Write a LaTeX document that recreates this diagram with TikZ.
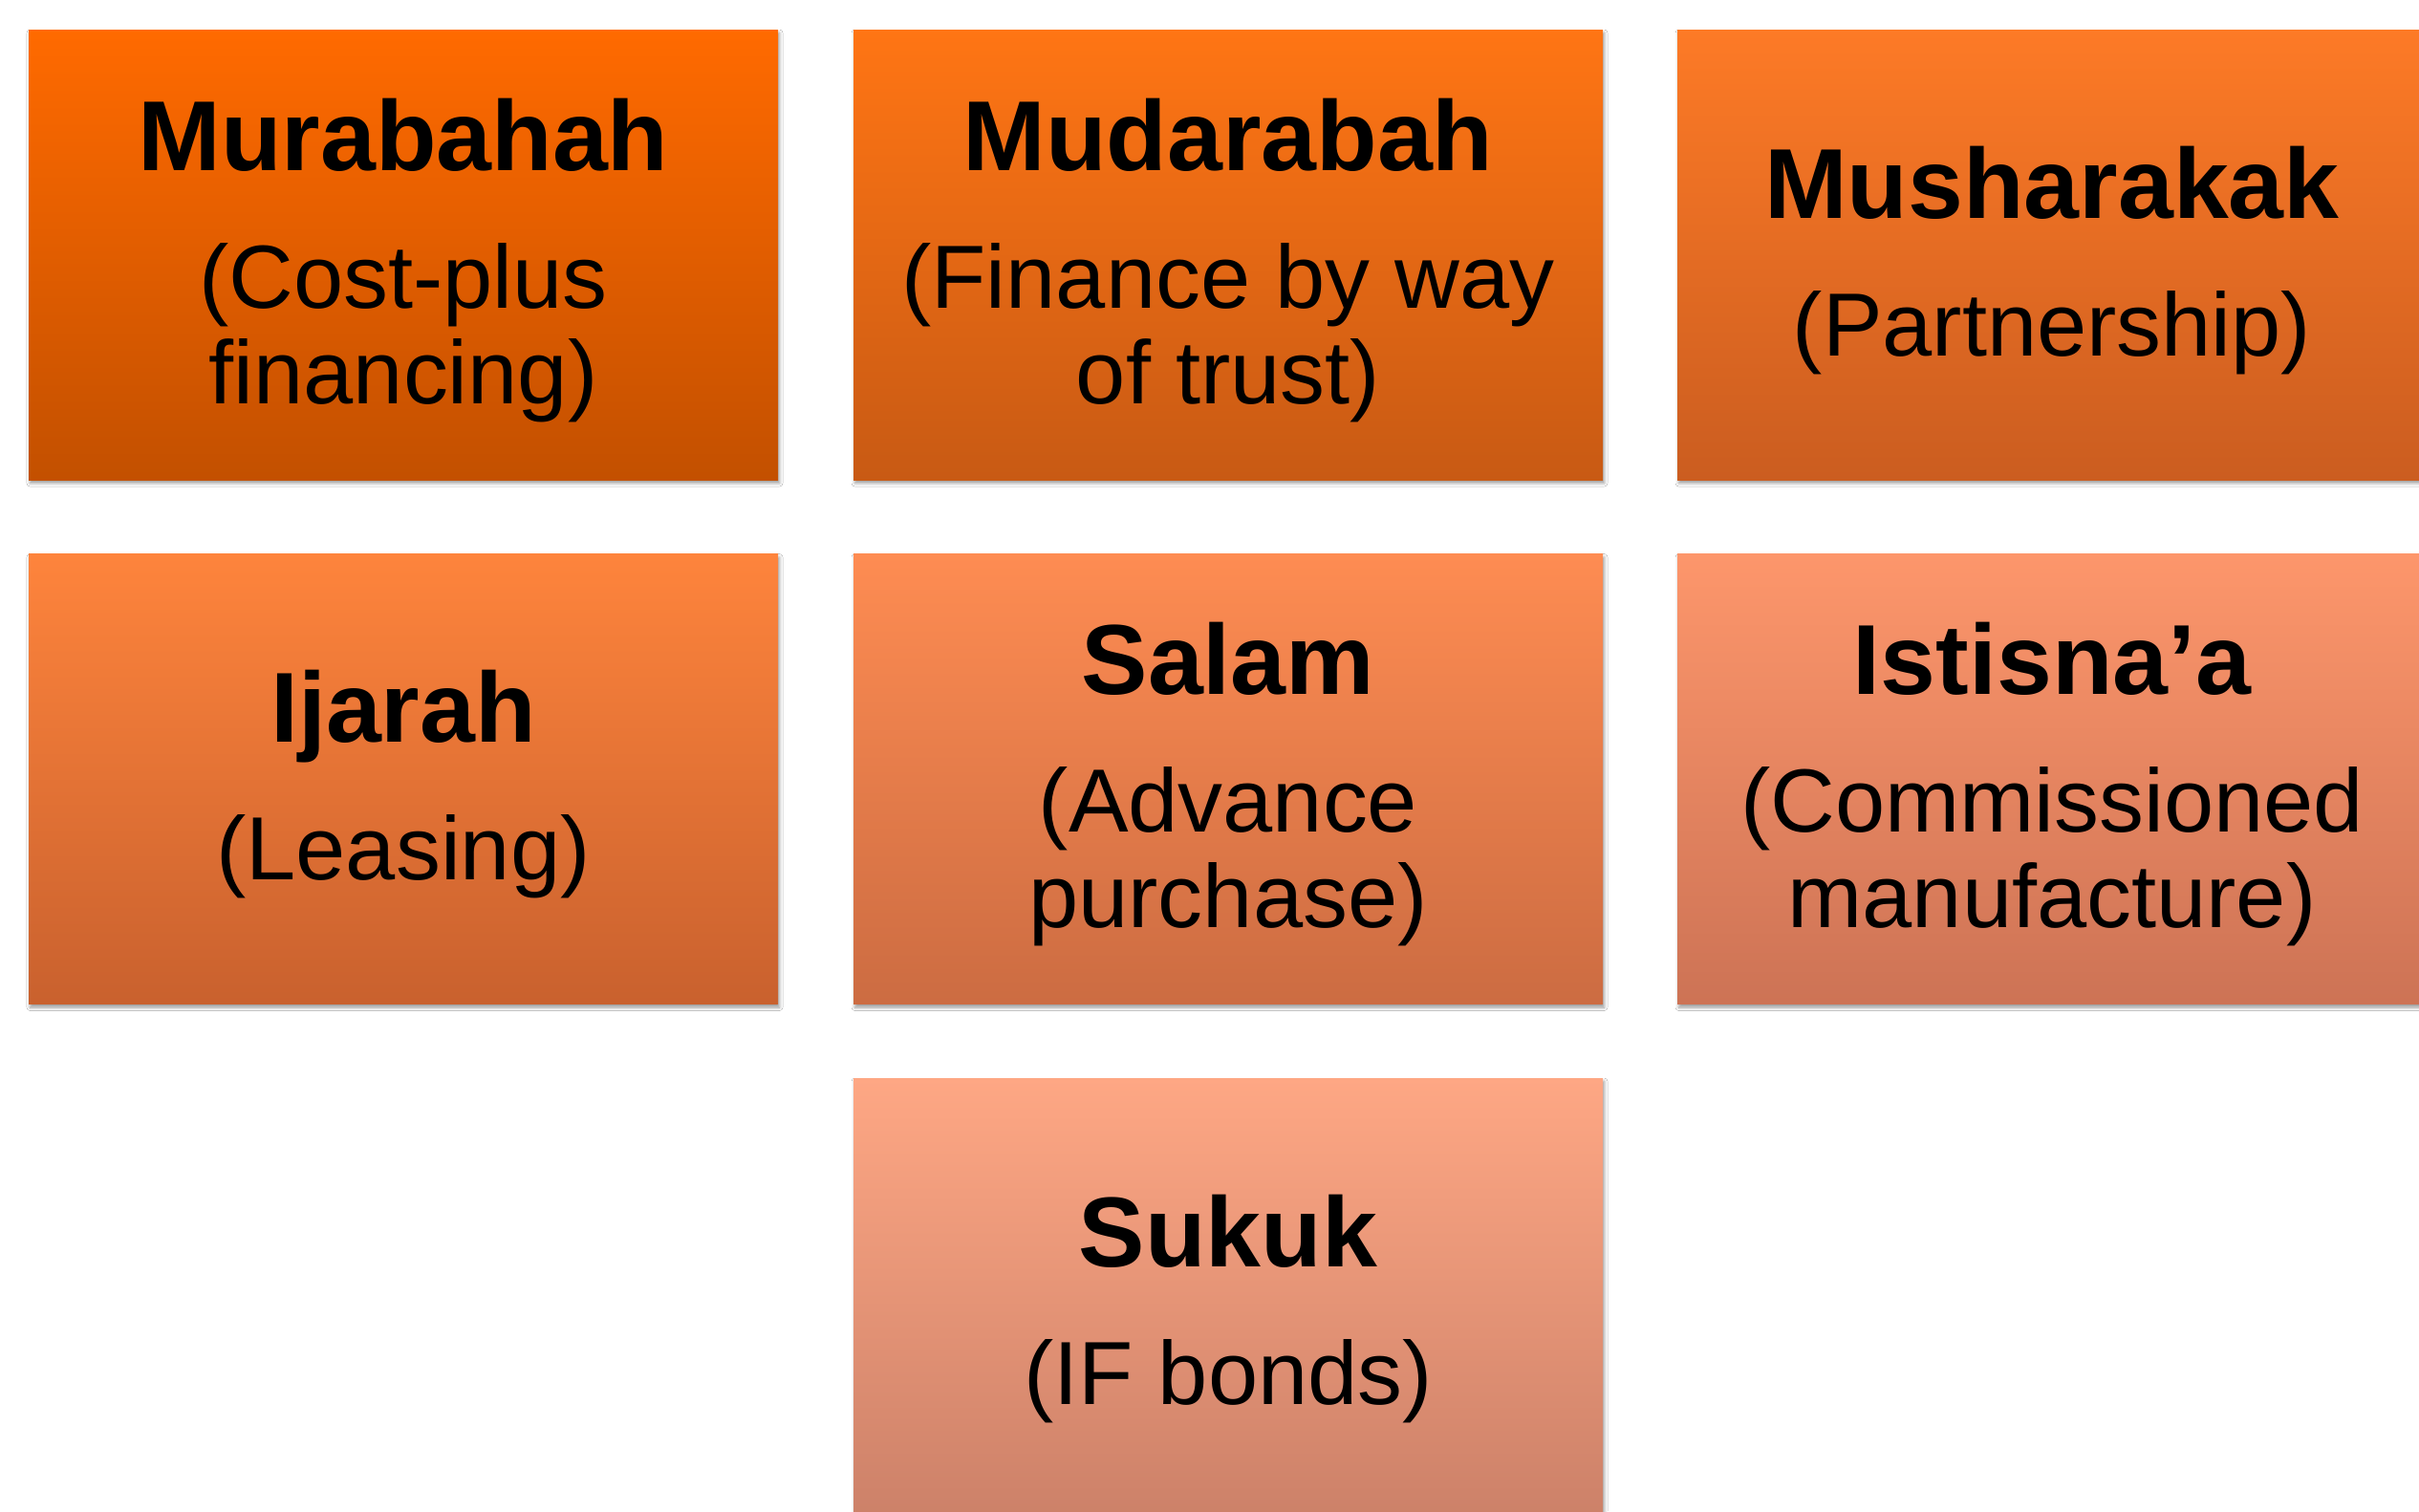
\documentclass[tikz,border=0pt]{standalone}
\usepackage{fontspec}
\setmainfont{Liberation Sans}
\usetikzlibrary{shadows.blur}

% gradient colours of the seven cards, dark orange to salmon
\definecolor{aTop}{HTML}{FF6A00}\definecolor{aBot}{HTML}{C35000}
\definecolor{bTop}{HTML}{FF7514}\definecolor{bBot}{HTML}{C85A14}
\definecolor{cTop}{HTML}{FD7A26}\definecolor{cBot}{HTML}{CB5D20}
\definecolor{dTop}{HTML}{FE843C}\definecolor{dBot}{HTML}{C9612E}
\definecolor{eTop}{HTML}{FE8C52}\definecolor{eBot}{HTML}{CC6C42}
\definecolor{fTop}{HTML}{FD966B}\definecolor{fBot}{HTML}{CD7355}
\definecolor{gTop}{HTML}{FEA784}\definecolor{gBot}{HTML}{CB8068}

\tikzset{
  card/.style={rectangle, minimum width=7.84cm, minimum height=4.71cm,
    inner sep=0pt, draw=none, shading=axis,
    blur shadow={shadow xshift=0.015cm, shadow yshift=-0.035cm,
      shadow blur radius=0.035cm, shadow opacity=40}},
  cardtitle/.style={anchor=base, inner sep=0pt,
    font=\fontsize{29.6}{35}\selectfont\bfseries},
  cardsub/.style={anchor=base, inner sep=0pt, align=center,
    font=\fontsize{26.7}{28.45}\selectfont},
}

% #1 name, #2 x, #3 y, #4 top colour, #5 bottom colour,
% #6 title, #7 subtitle, #8 number of extra subtitle lines (0 or 1)
% The base of a multi-line node is the baseline of its last line.
\newcommand\financebox[8]{%
  \node[card, top color=#4, bottom color=#5] (#1) at (#2,#3) {};
  \node[cardtitle] (#1-title) at ([yshift={(0.385+0.5*#8)*1cm}]#1.center) {#6};
  \node[cardsub] (#1-sub) at ([yshift={-(1.44+#8)*1cm}]#1-title.base) {#7};
}

\begin{document}
\begin{tikzpicture}
  \fill[white] (0,0) rectangle (25.31,-15.81);
  \useasboundingbox (0,0) rectangle (25.31,-15.81);
  \clip (0,0) rectangle (25.31,-15.81);

  \financebox{murabahah}{4.22}{-2.665}{aTop}{aBot}{Murabahah}{(Cost-plus\\financing)}{1}
  \financebox{mudarabah}{12.85}{-2.665}{bTop}{bBot}{Mudarabah}{(Finance by way\\of trust)}{1}
  \financebox{musharakak}{21.47}{-2.665}{cTop}{cBot}{Musharakak}{(Partnership)}{0}

  \financebox{ijarah}{4.22}{-8.15}{dTop}{dBot}{Ijarah}{(Leasing)}{0}
  \financebox{salam}{12.85}{-8.15}{eTop}{eBot}{Salam}{(Advance\\purchase)}{1}
  \financebox{istisnaa}{21.47}{-8.15}{fTop}{fBot}{Istisna’a}{(Commissioned\\manufacture)}{1}

  \financebox{sukuk}{12.85}{-13.635}{gTop}{gBot}{Sukuk}{(IF bonds)}{0}
\end{tikzpicture}
\end{document}
